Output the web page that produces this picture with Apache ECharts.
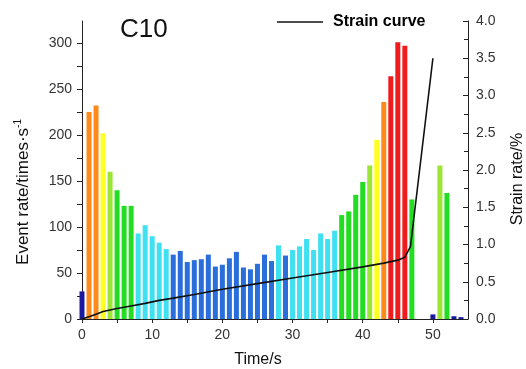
<!DOCTYPE html>
<html>
<head>
<meta charset="utf-8">
<script src="https://cdn.jsdelivr.net/npm/echarts@6/dist/echarts.min.js"></script>
<style>
  html, body { margin: 0; padding: 0; background: #fff; }
  #chart { width: 526px; height: 369px; }
</style>
</head>
<body>
<div id="chart"></div>
<script>
// ---- data ----
const times = [0,1,2,3,4,5,6,7,8,9,10,11,12,13,14,15,16,17,18,19,20,21,22,23,24,25,26,27,28,29,30,31,32,33,34,35,36,37,38,39,40,41,42,43,44,45,46,47,50,51,52,53,54];
const eventRate = [30,225,232,202,160,140,123,123,93,102,90,83,76,70,74,62,64,65,70,57,59,66,73,56,54,60,70,63,80,69,75,79,87,75,93,87,96,113,117,135,149,167,195,236,264,301,297,130,5,167,137,3,2];
const strainTime = [0,1,2,3,4,5,7,9,11,13,16,20,25,30,35,40,43,45,46,46.8,50];
const strainRate = [0,0.03,0.065,0.1,0.12,0.14,0.175,0.21,0.25,0.28,0.33,0.40,0.475,0.55,0.625,0.70,0.75,0.79,0.83,0.97,3.5];
const xLabels = [0,10,20,30,40,50];
const xTicks = [0,5,10,15,20,25,30,35,40,45,50];
const leftLabels = [0,50,100,150,200,250,300];
const leftTicks = [0,25,50,75,100,125,150,175,200,225,250,275,300];

function barColor(v) {
  if (v < 45) return '#1a1aa0';
  if (v < 74.5) return '#2a6edc';
  if (v < 105) return '#3ee0f2';
  if (v < 155) return '#22dd22';
  if (v < 180) return '#9be632';
  if (v < 215) return '#ffff22';
  if (v < 250) return '#ff8a1c';
  return '#ee1c1c';
}

const chart = echarts.init(document.getElementById('chart'), null, { renderer: 'canvas' });
const font = 'Arial, "Liberation Sans", sans-serif';
const axisColor = '#222';

chart.setOption({
  animation: false,
  backgroundColor: '#fff',
  title: {
    text: 'C10', left: 115, top: 12,
    textStyle: { fontSize: 26, fontWeight: 'normal', color: '#111', fontFamily: font }
  },
  legend: {
    data: [{ name: 'Strain curve', icon: 'rect' }], left: 272, top: 9,
    itemWidth: 46, itemHeight: 1.6,
    itemStyle: { color: '#111' },
    textStyle: { fontSize: 16, fontWeight: 'bold', color: '#000', fontFamily: font, padding: [0,0,0,5] }
  },
  grid: { left: 82, right: 58, top: 21, bottom: 50 },
  xAxis: {
    type: 'value', min: 0, max: 55,
    splitLine: { show: false },
    axisLine: { lineStyle: { color: axisColor, width: 1 } },
    axisTick: { customValues: xTicks, length: 4, inside: false, lineStyle: { color: axisColor } },
    axisLabel: { customValues: xLabels, fontSize: 14, color: '#333', fontFamily: font, margin: 9 }
  },
  yAxis: [
    {
      type: 'value', min: 0, max: 324, position: 'left',
      splitLine: { show: false },
      axisLine: { show: true, lineStyle: { color: axisColor, width: 1 } },
      axisTick: { show: true, customValues: leftTicks, length: 5, inside: false, lineStyle: { color: axisColor } },
      axisLabel: { customValues: leftLabels, fontSize: 14, color: '#333', fontFamily: font, margin: 10 }
    },
    {
      type: 'value', min: 0, max: 4, interval: 0.5, position: 'right',
      splitLine: { show: false },
      axisLine: { show: true, lineStyle: { color: axisColor, width: 1 } },
      axisTick: { show: true, inside: true, length: 5, lineStyle: { color: axisColor } },
      minorTick: { show: true, splitNumber: 2, length: 4, lineStyle: { color: axisColor } },
      axisLabel: { fontSize: 14, color: '#333', fontFamily: font, margin: 8,
        formatter: v => v.toFixed(1) }
    }
  ],
  graphic: [
    { type: 'text', x: 258, y: 360, style: { text: 'Time/s', font: '16px ' + font, fill: '#111', align: 'center', verticalAlign: 'middle' } },
    { type: 'text', x: 23, y: 192, rotation: Math.PI / 2,
      style: { text: 'Event rate/times·s{sup|-1}', font: '17px ' + font, fill: '#111', align: 'center', verticalAlign: 'middle',
        rich: { sup: { fontSize: 10, fontFamily: font, verticalAlign: 'top', lineHeight: 20, fill: '#111' } } } },
    { type: 'text', x: 518, y: 179, rotation: Math.PI / 2,
      style: { text: 'Strain rate/%', font: '16px ' + font, fill: '#111', align: 'center', verticalAlign: 'middle' } }
  ],
  series: [
    {
      name: 'Event rate', type: 'bar', yAxisIndex: 0, barWidth: 5,
      data: times.map((t, i) => [t, eventRate[i]]),
      itemStyle: { color: p => barColor(p.value[1]) }
    },
    {
      name: 'Strain curve', type: 'line', yAxisIndex: 1,
      data: strainTime.map((t, i) => [t, strainRate[i]]),
      symbol: 'none', smooth: false,
      lineStyle: { color: '#111', width: 1.6 }, itemStyle: { color: '#111' }
    }
  ]
});
</script>
</body>
</html>
